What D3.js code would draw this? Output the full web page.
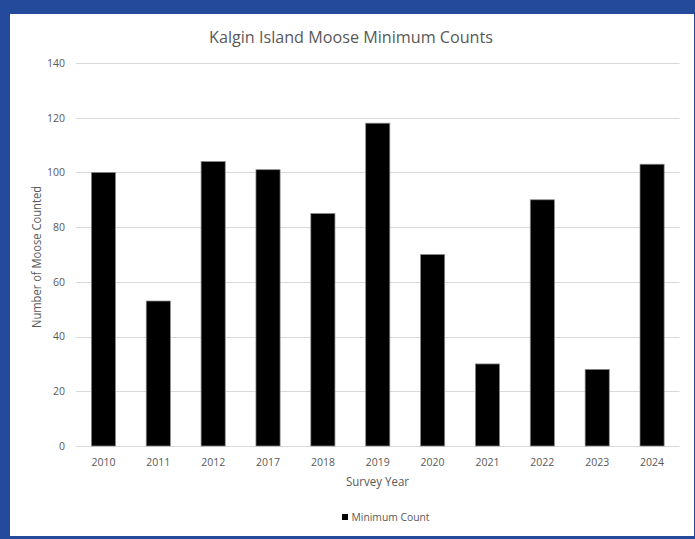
<!DOCTYPE html>
<html>
<head>
<meta charset="utf-8">
<script src="https://cdn.jsdelivr.net/npm/d3@7/dist/d3.min.js"></script>
<style>
  html, body { margin: 0; padding: 0; background: #fff; }
  svg { display: block; }
  text { font-family: "Open Sans", "Noto Sans", sans-serif; fill: #595959; }
</style>
</head>
<body>
<svg id="chart" width="695" height="539"></svg>
<script>
const categories = ["2010", "2011", "2012", "2017", "2018", "2019", "2020", "2021", "2022", "2023", "2024"];
const minimumCount = [100, 53, 104, 101, 85, 118, 70, 30, 90, 28, 103];
const yTicks = [0, 20, 40, 60, 80, 100, 120, 140];
const titleText = "Kalgin Island Moose Minimum Counts";
const xAxisTitle = "Survey Year";
const yAxisTitle = "Number of Moose Counted";
const seriesName = "Minimum Count";

const svg = d3.select("#chart");
const W = 695, H = 539;

// blue frame
svg.append("rect").attr("x", 0).attr("y", 0).attr("width", W).attr("height", H).attr("fill", "#234a9b");
svg.append("rect").attr("x", 10).attr("y", 14).attr("width", 684).attr("height", 522).attr("fill", "#ffffff");

const plot = { left: 76, right: 679.5, top: 63, bottom: 446 };

const x = d3.scaleBand().domain(categories).range([plot.left, plot.right]).paddingInner(0.56).paddingOuter(0.28);
const y = d3.scaleLinear().domain([0, 140]).range([plot.bottom, plot.top]);

// gridlines
svg.append("g").selectAll("line").data(yTicks).join("line")
  .attr("x1", plot.left).attr("x2", plot.right)
  .attr("y1", d => Math.round(y(d)) + 0.5).attr("y2", d => Math.round(y(d)) + 0.5)
  .attr("stroke", "#d9d9d9").attr("stroke-width", 1);

// y axis labels
const yAxis = d3.axisLeft(y).tickValues(yTicks).tickSize(0).tickPadding(0);
const gy = svg.append("g").attr("transform", `translate(65,0)`).call(yAxis);
gy.select(".domain").remove();
gy.selectAll("text").attr("font-size", "10.5px").style("fill", "#595959").attr("font-family", "Open Sans");

// bars
svg.append("g").selectAll("rect").data(minimumCount).join("rect")
  .attr("x", (d, i) => x(categories[i]))
  .attr("y", d => y(d))
  .attr("width", x.bandwidth())
  .attr("height", d => plot.bottom - y(d))
  .attr("fill", "#000000")
  .attr("stroke", "#8c8c8c")
  .attr("stroke-width", 0.75);

// x axis
const xAxis = d3.axisBottom(x).tickSize(0).tickPadding(0);
const gx = svg.append("g").attr("transform", `translate(0,${plot.bottom})`).call(xAxis);
gx.select(".domain").remove();
gx.selectAll("text").attr("font-size", "10.5px").attr("dy", "0").attr("y", 19.5).style("fill", "#595959").attr("font-family", "Open Sans");

// title
svg.append("text").attr("x", 351).attr("y", 43).attr("text-anchor", "middle")
  .attr("font-size", "16px").attr("textLength", 284).attr("lengthAdjust", "spacingAndGlyphs")
  .text(titleText);

// x axis title
svg.append("text").attr("x", 377.5).attr("y", 486).attr("text-anchor", "middle")
  .attr("font-size", "12px").attr("textLength", 63).attr("lengthAdjust", "spacingAndGlyphs")
  .text(xAxisTitle);

// y axis title
svg.append("text").attr("transform", "translate(41,257) rotate(-90)").attr("text-anchor", "middle")
  .attr("font-size", "12px").attr("textLength", 142).attr("lengthAdjust", "spacingAndGlyphs")
  .text(yAxisTitle);

// legend
svg.append("rect").attr("x", 342).attr("y", 514).attr("width", 6).attr("height", 6).attr("fill", "#000");
svg.append("text").attr("x", 351.5).attr("y", 520.5).attr("font-size", "10px")
  .attr("textLength", 78).attr("lengthAdjust", "spacingAndGlyphs")
  .text(seriesName);
</script>
</body>
</html>
